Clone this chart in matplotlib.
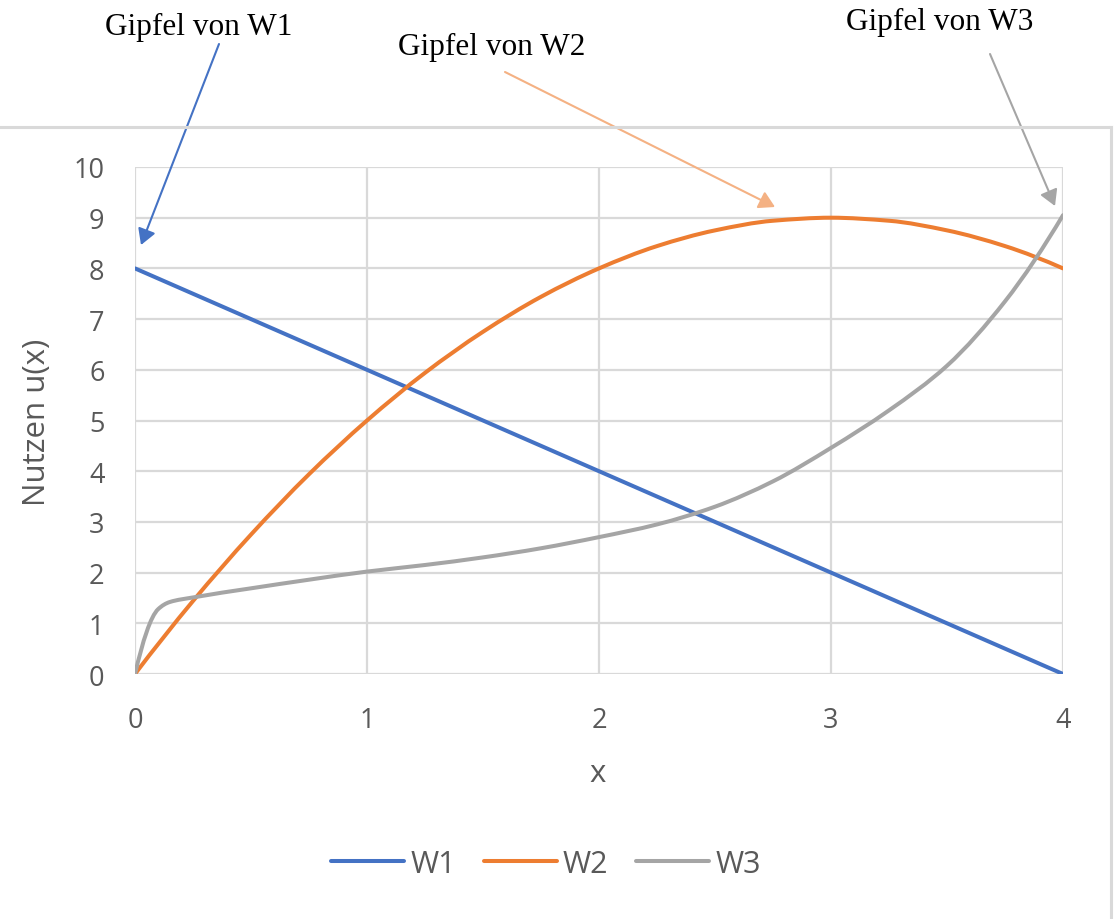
import numpy as np
import matplotlib.pyplot as plt
from matplotlib.path import Path
from matplotlib.patches import PathPatch, FancyArrowPatch
from matplotlib.lines import Line2D

# data
x12 = [0, 0.25, 0.5, 0.75, 1, 1.25, 1.5, 1.75, 2, 2.25, 2.5, 2.75, 3, 3.25, 3.5, 3.75, 4]
w1 = [8, 7.5, 7, 6.5, 6, 5.5, 5, 4.5, 4, 3.5, 3, 2.5, 2, 1.5, 1, 0.5, 0]
w2 = [0, 1.44, 2.75, 3.94, 5, 5.94, 6.75, 7.44, 8, 8.44, 8.75, 8.94, 9, 8.94, 8.75, 8.44, 8]
x3 = [0, 0.1, 0.15, 0.25, 0.5, 0.75, 1, 1.25, 1.5, 1.75, 2, 2.25, 2.5, 2.75, 3, 3.25, 3.5, 3.75, 4]
w3 = [0, 1.28, 1.42, 1.51, 1.69, 1.86, 2.02, 2.15, 2.3, 2.48, 2.7, 2.95, 3.3, 3.8, 4.46, 5.2, 6.08, 7.35, 9.05]

series = ["W1", "W2", "W3"]
colors = ["#4472C4", "#ED7D31", "#A5A5A5"]
notes = ["Gipfel von W1", "Gipfel von W2", "Gipfel von W3"]

W, H = 1117, 920
plt.rcParams['font.family'] = ['Open Sans', 'DejaVu Sans']


def smooth_path(xs, ys):
    # smoothed line through the points (monotone cubic, drawn as Bezier)
    x = np.asarray(xs, float)
    y = np.asarray(ys, float)
    h = np.diff(x)
    d = np.diff(y) / h
    m = np.zeros_like(y)
    for i in range(1, len(x) - 1):
        if d[i - 1] * d[i] > 0:
            w1_, w2_ = 2 * h[i] + h[i - 1], h[i] + 2 * h[i - 1]
            m[i] = (w1_ + w2_) / (w1_ / d[i - 1] + w2_ / d[i])
    m[0] = ((2 * h[0] + h[1]) * d[0] - h[0] * d[1]) / (h[0] + h[1])
    m[-1] = ((2 * h[-1] + h[-2]) * d[-1] - h[-1] * d[-2]) / (h[-1] + h[-2])
    verts = [(x[0], y[0])]
    codes = [Path.MOVETO]
    for i in range(len(x) - 1):
        verts += [(x[i] + h[i] / 3, y[i] + m[i] * h[i] / 3),
                  (x[i + 1] - h[i] / 3, y[i + 1] - m[i + 1] * h[i] / 3),
                  (x[i + 1], y[i + 1])]
        codes += [Path.CURVE4] * 3
    return Path(verts, codes)


def fx(px):
    return px / W


def fy(py):
    return 1 - py / H


fig = plt.figure(figsize=(W / 100, H / 100), dpi=100)
ax = fig.add_axes([fx(135), fy(675), fx(1063) - fx(135), fy(168) - fy(675)])

for xs, ys, c in [(x12, w1, colors[0]), (x12, w2, colors[1]), (x3, w3, colors[2])]:
    ax.add_patch(PathPatch(smooth_path(xs, ys), fill=False, edgecolor=c,
                           lw=2.9, capstyle='round', zorder=3))

ax.set_xlim(0, 4)
ax.set_ylim(0, 10)
ax.set_xticks(range(0, 5))
ax.set_yticks(range(0, 11))
ax.grid(True, color="#D9D9D9", lw=1.6)
ax.set_axisbelow(True)
for s in ax.spines.values():
    s.set_visible(False)
ax.tick_params(length=0, labelsize=19.5, labelcolor="#595959")
ax.tick_params(axis='y', pad=22)
ax.tick_params(axis='x', pad=23)

fig.text(fx(37), fy(422), "Nutzen u(x)", rotation=90, ha='center', va='center',
         fontsize=22.5, color="#595959")
fig.text(fx(598), fy(774), "x", ha='center', va='center', fontsize=22.5, color="#595959")

handles = [Line2D([], [], color=c, lw=2.9, solid_capstyle='round') for c in colors]
fig.legend(handles, series, loc='center', bbox_to_anchor=(fx(546), fy(865)), ncol=3,
           frameon=False, fontsize=22, handlelength=2.4, handletextpad=0.2,
           columnspacing=0.9, labelcolor="#595959")

# outer chart frame (partly cut off)
fig.add_artist(Line2D([0, fx(1111)], [fy(128), fy(128)], color="#D9D9D9", lw=2.2))
fig.add_artist(Line2D([fx(1111), fx(1111)], [fy(128), 0], color="#D9D9D9", lw=2.2))

# annotations
note_pos = [(199, 27), (492, 47), (940, 22)]
arrow_cols = ["#4472C4", "#F4B183", "#A5A5A5"]
arrows = [((219, 45), (141, 246)), ((505, 73), (775, 208)), ((990, 55), (1055, 207))]
for t, (px, py), c, (a, b) in zip(notes, note_pos, arrow_cols, arrows):
    fig.text(fx(px), fy(py), t, ha='center', va='center', fontsize=22.5,
             family='Liberation Serif', color='black')
    fig.add_artist(FancyArrowPatch((fx(a[0]), fy(a[1])), (fx(b[0]), fy(b[1])),
                                   transform=fig.transFigure, color=c, lw=1.5,
                                   arrowstyle='-|>,head_length=0.95,head_width=0.55',
                                   mutation_scale=10, shrinkA=0, shrinkB=0))

fig.savefig("out.png", dpi=100, facecolor='white')
